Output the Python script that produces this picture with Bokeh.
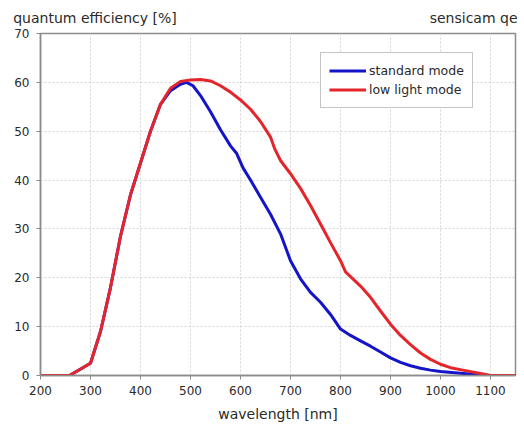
from bokeh.plotting import figure
from bokeh.models import Range1d, Legend, LegendItem, FixedTicker, LinearAxis
from bokeh.embed import file_html
from bokeh.resources import INLINE

# wavelength [nm]
std_nm = [200, 258, 300, 320, 340, 360, 380, 400, 420, 440, 460, 480, 492, 505, 520, 540, 560, 580, 592,
          605, 620, 640, 660, 680, 700, 720, 740, 760, 780, 800, 820, 840, 860, 880, 900, 920, 940, 960,
          980, 1000, 1040, 1080, 1100, 1150]
std_qe = [0, 0, 2.5, 9, 18, 28.5, 37, 43.5, 50, 55.5, 58.3, 59.6, 60, 59.3, 57.3, 54, 50.3, 47, 45.5,
          42.5, 40, 36.5, 33, 29, 23.5, 19.8, 17, 15, 12.5, 9.5, 8.2, 7.1, 6, 4.8, 3.6, 2.7, 2.0, 1.5,
          1.1, 0.8, 0.45, 0.1, 0, 0]

low_nm = [200, 258, 300, 320, 340, 360, 380, 400, 420, 440, 460, 480, 500, 520, 540, 560, 580, 600,
          620, 640, 660, 668, 680, 700, 720, 740, 760, 780, 800, 810, 840, 860, 880, 900, 920, 940, 960,
          980, 1000, 1020, 1050, 1080, 1100, 1150]
low_qe = [0, 0, 2.5, 9, 18, 28.5, 37, 43.5, 50, 55.5, 58.8, 60.2, 60.5, 60.6, 60.3, 59.3, 58, 56.4,
          54.5, 52, 48.8, 46.5, 44, 41.3, 38.3, 34.8, 31, 27.2, 23.5, 21.2, 18.3, 16, 13.2, 10.5, 8.2,
          6.3, 4.6, 3.3, 2.3, 1.6, 1.0, 0.4, 0, 0]

x_ticks = [200, 300, 400, 500, 600, 700, 800, 900, 1000, 1100]
y_ticks = [0, 10, 20, 30, 40, 50, 60, 70]

y_title = "quantum efficiency [%]"
corner_title = "sensicam qe"

FONT = "DejaVu Sans"
GRAY = "#8c8c8c"
TXT = "#2a2a2a"

p = figure(width=517, height=426, output_backend="svg", toolbar_location=None,
           x_range=Range1d(200, 1150), y_range=Range1d(0, 70),
           min_border_left=40, min_border_right=2, min_border_top=33, min_border_bottom=51)
p.background_fill_color = "white"
p.border_fill_color = "white"
p.outline_line_color = GRAY
p.outline_line_width = 1.5

for ax in (p.xaxis[0], p.yaxis[0]):
    ax.axis_line_color = GRAY
    ax.axis_line_width = 1.5
    ax.major_tick_line_color = GRAY
    ax.major_tick_in = 0
    ax.major_tick_out = 4
    ax.minor_tick_line_color = None
    ax.major_label_text_font = FONT
    ax.major_label_text_font_size = "12px"
    ax.major_label_text_color = TXT

p.xaxis.ticker = FixedTicker(ticks=x_ticks)
p.yaxis.ticker = FixedTicker(ticks=y_ticks)
p.xaxis.major_label_standoff = 6
p.yaxis.major_label_standoff = 7
p.xaxis.axis_label = "wavelength [nm]"
p.xaxis.axis_label_text_font = FONT
p.xaxis.axis_label_text_font_size = "14px"
p.xaxis.axis_label_text_font_style = "normal"
p.xaxis.axis_label_text_color = TXT
p.xaxis.axis_label_standoff = 8

p.xgrid.ticker = FixedTicker(ticks=x_ticks)
p.ygrid.ticker = FixedTicker(ticks=y_ticks)
for g in (p.xgrid[0], p.ygrid[0]):
    g.grid_line_color = "#d4d4d4"
    g.grid_line_dash = "2 2"
    g.grid_line_width = 1

r_std = p.line(std_nm, std_qe, line_color="#1414c8", line_width=3)
r_low = p.line(low_nm, low_qe, line_color="#e4262c", line_width=3)

legend = Legend(items=[LegendItem(label="standard mode", renderers=[r_std]),
                       LegendItem(label="low light mode", renderers=[r_low])],
                location=(280, 267), orientation="vertical")
legend.label_text_font = FONT
legend.label_text_font_size = "12.5px"
legend.label_text_color = TXT
legend.glyph_width = 37
legend.glyph_height = 19
legend.label_height = 19
legend.label_standoff = 3
legend.spacing = 0
legend.padding = 8
legend.margin = 0
legend.border_line_color = GRAY
legend.border_line_width = 1.5
legend.background_fill_color = "white"
legend.background_fill_alpha = 1
p.add_layout(legend, "center")

# header row above the frame: quantity at the left, camera name at the right
head_pos = [309, 1067]
top = LinearAxis(ticker=FixedTicker(ticks=head_pos),
                 major_label_overrides={head_pos[0]: y_title, head_pos[1]: corner_title})
top.axis_line_color = None
top.major_tick_line_color = None
top.minor_tick_line_color = None
top.major_tick_in = 0
top.major_tick_out = 0
top.major_label_standoff = 8
top.major_label_text_font = FONT
top.major_label_text_font_size = "14px"
top.major_label_text_color = TXT
p.add_layout(top, "above")

open("out.html", "w").write(file_html(p, INLINE))
